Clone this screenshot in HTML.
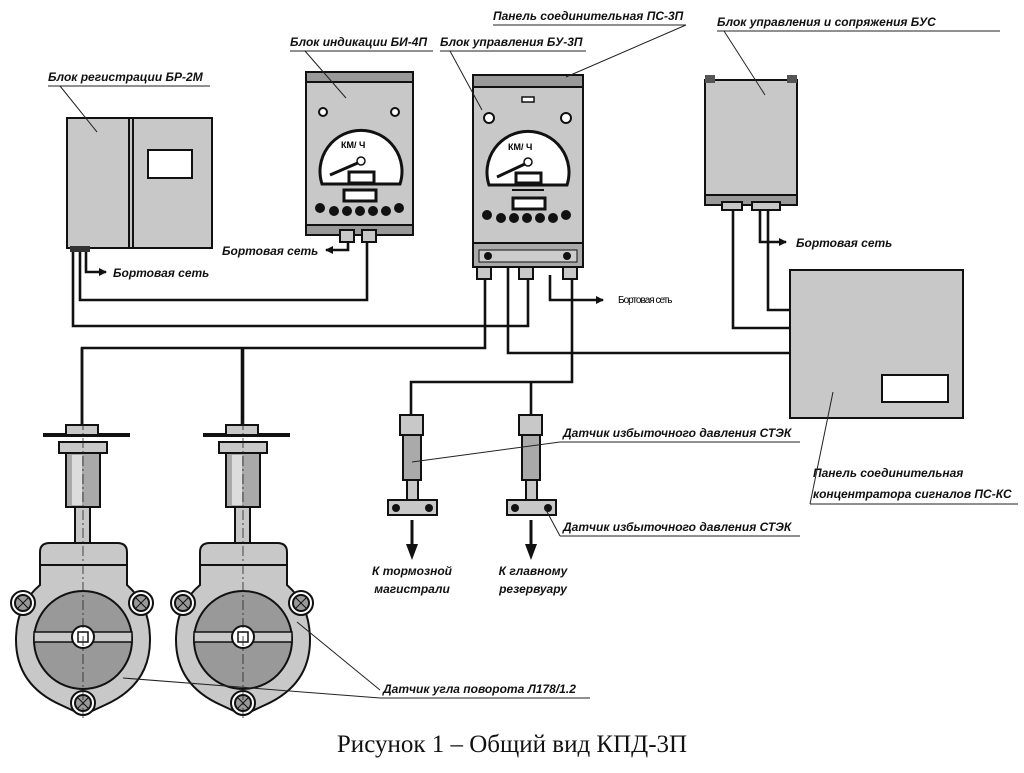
<!DOCTYPE html>
<html><head><meta charset="utf-8"><style>
html,body{margin:0;padding:0;background:#fff;}
svg{display:block;}
.t{font-family:"Liberation Sans","DejaVu Sans",sans-serif;font-style:italic;font-weight:bold;font-size:12px;fill:#111;}
.w{fill:none;stroke:#111;stroke-width:2.6;}
.l{fill:none;stroke:#222;stroke-width:1;}
.g{fill:#c8c8c8;stroke:#111;stroke-width:2;}
.d{fill:#999;stroke:#111;stroke-width:2;}
</style></head><body>
<svg width="1024" height="773" viewBox="0 0 1024 773" xmlns="http://www.w3.org/2000/svg">
<defs>
<marker id="a" markerWidth="8" markerHeight="8" refX="7" refY="4" orient="auto" markerUnits="userSpaceOnUse"><path d="M0,0 L8,4 L0,8z" fill="#111"/></marker>
<g id="bolt" stroke="#111" stroke-width="2">
 <circle r="12" fill="#fff"/><circle r="8" fill="#999"/>
 <line x1="-5" y1="-5" x2="5" y2="5" stroke-width="1"/><line x1="-5" y1="5" x2="5" y2="-5" stroke-width="1"/>
</g>
<g id="ang">
 <line x1="82" y1="348" x2="82" y2="425" class="w"/>
 <line x1="43" y1="435" x2="130" y2="435" stroke="#111" stroke-width="4"/>
 <rect x="66" y="425" width="32" height="10" class="g"/>
 <rect x="59" y="442" width="48" height="11" class="g"/>
 <rect x="66" y="453" width="34" height="54" fill="#aaa" stroke="#111" stroke-width="2"/>
 <rect x="72" y="455" width="10" height="50" fill="#ddd"/>
 <rect x="75" y="507" width="15" height="38" class="g"/>
 <path d="M40,552 Q40,543 50,543 L117,543 Q127,543 127,552 L127,585 Q150,605 150,640 Q150,685 105,705 Q90,712 83,715 Q76,712 61,705 Q16,685 16,640 Q16,605 40,585 Z" class="g"/>
 <line x1="40" y1="565" x2="127" y2="565" stroke="#111" stroke-width="2"/>
 <circle cx="83" cy="640" r="49" class="d"/>
 <rect x="34" y="632" width="98" height="10" fill="#c8c8c8" stroke="#111" stroke-width="1.5"/>
 <circle cx="83" cy="637" r="11" fill="#fff" stroke="#111" stroke-width="2"/>
 <rect x="78" y="632" width="10" height="10" fill="#fff" stroke="#111" stroke-width="1.5"/>
 <use href="#bolt" x="23" y="603"/><use href="#bolt" x="141" y="603"/><use href="#bolt" x="83" y="703"/>
 <line x1="83" y1="420" x2="83" y2="720" stroke="#222" stroke-width="0.8" stroke-dasharray="10,3,2,3"/>
</g>
<g id="prs">
 <rect x="400" y="415" width="23" height="20" class="g"/>
 <rect x="403" y="435" width="18" height="45" fill="#aaa" stroke="#111" stroke-width="2"/>
 <rect x="407" y="480" width="11" height="20" class="g"/>
 <rect x="388" y="500" width="49" height="15" class="g"/>
 <circle cx="396" cy="508" r="4" fill="#111"/><circle cx="429" cy="508" r="4" fill="#111"/>
 <line x1="412" y1="520" x2="412" y2="548" stroke="#111" stroke-width="3"/>
 <path d="M406,544 L418,544 L412,560 Z" fill="#111"/>
</g>
</defs>
<!-- wires -->
<path class="w" d="M73,250 V326 H528 V275"/>
<path class="w" d="M80,250 V300 H367 V238"/>
<path class="w" d="M86,250 V272 H106" marker-end="url(#a)"/>
<path class="w" d="M82,430 V348 H485 V275"/>
<path class="w" d="M243,348 V430"/>
<path class="w" d="M508,268 V353 H792"/>
<path class="w" d="M550,275 V300 H603" marker-end="url(#a)"/>
<path class="w" d="M572,275 V382 H411 V415"/>
<path class="w" d="M531,382 V415"/>
<path class="w" d="M348,240 V250 H326" marker-end="url(#a)"/>
<path class="w" d="M733,205 V328 H792"/>
<path class="w" d="M768,205 V310 H792"/>
<path class="w" d="M760,205 V242 H786" marker-end="url(#a)"/>
<!-- BR-2M -->
<rect x="67" y="118" width="145" height="130" class="g"/>
<line x1="129" y1="118" x2="129" y2="248" stroke="#111" stroke-width="2"/>
<line x1="133" y1="118" x2="133" y2="248" stroke="#111" stroke-width="2"/>
<rect x="148" y="150" width="44" height="28" fill="#fff" stroke="#111" stroke-width="2"/>
<rect x="70" y="246" width="20" height="6" fill="#333"/>
<!-- BI-4P -->
<rect x="306" y="72" width="107" height="163" class="g"/>
<rect x="306" y="72" width="107" height="10" fill="#999" stroke="#111" stroke-width="2"/>
<rect x="306" y="225" width="107" height="10" fill="#999" stroke="#111" stroke-width="2"/>
<rect x="340" y="230" width="14" height="12" class="g"/><rect x="362" y="230" width="14" height="12" class="g"/>
<circle cx="323" cy="112" r="4" fill="#fff" stroke="#111" stroke-width="2"/><circle cx="395" cy="112" r="4" fill="#fff" stroke="#111" stroke-width="2"/>
<path d="M322,184 A41,41 0 1 1 400,184 Z" fill="#fff" stroke="#111" stroke-width="3"/>
<text x="341" y="148" style="font-family:'Liberation Sans',sans-serif;font-weight:bold;font-size:9px">КМ/ Ч</text>
<line x1="330" y1="175" x2="360" y2="162" stroke="#111" stroke-width="3"/>
<circle cx="361" cy="161" r="4" fill="#fff" stroke="#111" stroke-width="1.5"/>
<rect x="349" y="172" width="25" height="11" fill="#fff" stroke="#111" stroke-width="3"/>
<rect x="344" y="190" width="32" height="11" fill="#fff" stroke="#111" stroke-width="3"/>
<g fill="#111"><circle cx="320" cy="208" r="5"/><circle cx="334" cy="211" r="5"/><circle cx="347" cy="211" r="5"/><circle cx="360" cy="211" r="5"/><circle cx="373" cy="211" r="5"/><circle cx="386" cy="211" r="5"/><circle cx="399" cy="208" r="5"/></g>
<!-- BU-3P -->
<rect x="473" y="75" width="110" height="168" class="g"/>
<rect x="473" y="75" width="110" height="12" fill="#999" stroke="#111" stroke-width="2"/>
<rect x="473" y="243" width="110" height="24" fill="#aaa" stroke="#111" stroke-width="2"/>
<rect x="479" y="250" width="98" height="12" fill="#ccc" stroke="#111" stroke-width="1"/>
<circle cx="488" cy="256" r="4" fill="#111"/><circle cx="567" cy="256" r="4" fill="#111"/>
<rect x="477" y="267" width="14" height="12" class="g"/><rect x="519" y="267" width="14" height="12" class="g"/><rect x="563" y="267" width="14" height="12" class="g"/>
<rect x="522" y="97" width="12" height="5" fill="#fff" stroke="#111" stroke-width="1.5"/>
<circle cx="489" cy="118" r="5" fill="#fff" stroke="#111" stroke-width="2"/><circle cx="566" cy="118" r="5" fill="#fff" stroke="#111" stroke-width="2"/>
<path d="M489,185 A41,41 0 1 1 567,185 Z" fill="#fff" stroke="#111" stroke-width="3"/>
<text x="508" y="150" style="font-family:'Liberation Sans',sans-serif;font-weight:bold;font-size:9px">КМ/ Ч</text>
<line x1="497" y1="177" x2="527" y2="163" stroke="#111" stroke-width="3"/>
<circle cx="528" cy="162" r="4" fill="#fff" stroke="#111" stroke-width="1.5"/>
<rect x="516" y="173" width="25" height="10" fill="#fff" stroke="#111" stroke-width="3"/>
<line x1="512" y1="190" x2="544" y2="190" stroke="#111" stroke-width="2"/>
<rect x="513" y="198" width="32" height="11" fill="#fff" stroke="#111" stroke-width="3"/>
<g fill="#111"><circle cx="487" cy="215" r="5"/><circle cx="501" cy="218" r="5"/><circle cx="514" cy="218" r="5"/><circle cx="527" cy="218" r="5"/><circle cx="540" cy="218" r="5"/><circle cx="553" cy="218" r="5"/><circle cx="566" cy="215" r="5"/></g>
<!-- BUS -->
<rect x="705" y="80" width="92" height="118" class="g"/>
<rect x="705" y="75" width="10" height="8" fill="#555"/><rect x="787" y="75" width="10" height="8" fill="#555"/>
<rect x="705" y="195" width="92" height="10" fill="#999" stroke="#111" stroke-width="2"/>
<rect x="722" y="202" width="20" height="8" class="g"/><rect x="752" y="202" width="28" height="8" class="g"/>
<!-- PS-KS -->
<rect x="790" y="270" width="173" height="148" class="g"/>
<rect x="882" y="375" width="66" height="27" fill="#fff" stroke="#111" stroke-width="2"/>
<!-- sensors -->
<use href="#ang"/>
<use href="#ang" x="160"/>
<use href="#prs"/>
<use href="#prs" x="119"/>
<!-- labels -->
<text class="t" x="48" y="81">Блок  регистрации БР-2М</text><line class="l" x1="48" y1="86" x2="210" y2="86"/><line class="l" x1="60" y1="86" x2="97" y2="132"/>
<text class="t" x="290" y="46">Блок индикации БИ-4П</text><line class="l" x1="290" y1="51" x2="433" y2="51"/><line class="l" x1="305" y1="51" x2="346" y2="98"/>
<text class="t" x="440" y="46">Блок управления БУ-3П</text><line class="l" x1="440" y1="51" x2="586" y2="51"/><line class="l" x1="450" y1="51" x2="482" y2="110"/>
<text class="t" x="493" y="20">Панель соединительная ПС-3П</text><line class="l" x1="493" y1="25" x2="686" y2="25"/><line class="l" x1="686" y1="25" x2="566" y2="77"/>
<text class="t" x="717" y="26">Блок управления и сопряжения БУС</text><line class="l" x1="717" y1="31" x2="1000" y2="31"/><line class="l" x1="724" y1="31" x2="765" y2="95"/>
<text class="t" x="113" y="277">Бортовая сеть</text>
<text class="t" x="222" y="255">Бортовая сеть</text>
<text class="t" x="796" y="247">Бортовая сеть</text>
<text x="618" y="303" style="font-family:'Liberation Sans',sans-serif;font-size:10px;letter-spacing:-1px">Бортовая сеть</text>
<text class="t" x="563" y="437">Датчик избыточного давления СТЭК</text><line class="l" x1="560" y1="442" x2="800" y2="442"/><line class="l" x1="560" y1="442" x2="412" y2="462"/>
<text class="t" x="563" y="531">Датчик избыточного давления СТЭК</text><line class="l" x1="560" y1="536" x2="800" y2="536"/><line class="l" x1="560" y1="536" x2="545" y2="508"/>
<text class="t" x="412" y="575" text-anchor="middle">К тормозной</text><text class="t" x="412" y="593" text-anchor="middle">магистрали</text>
<text class="t" x="533" y="575" text-anchor="middle">К главному</text><text class="t" x="533" y="593" text-anchor="middle">резервуару</text>
<text class="t" x="813" y="477">Панель соединительная</text>
<text class="t" x="813" y="498">концентратора сигналов ПС-КС</text><line class="l" x1="810" y1="504" x2="1018" y2="504"/><line class="l" x1="810" y1="504" x2="833" y2="392"/>
<text class="t" x="383" y="693">Датчик угла поворота Л178/1.2</text><line class="l" x1="380" y1="698" x2="590" y2="698"/><line class="l" x1="380" y1="698" x2="123" y2="678"/><line class="l" x1="380" y1="690" x2="297" y2="622"/>
<text x="512" y="752" text-anchor="middle" style="font-family:'Liberation Serif',serif;font-size:25px;fill:#111">Рисунок 1 – Общий вид КПД-3П</text>
</svg>
</body></html>
